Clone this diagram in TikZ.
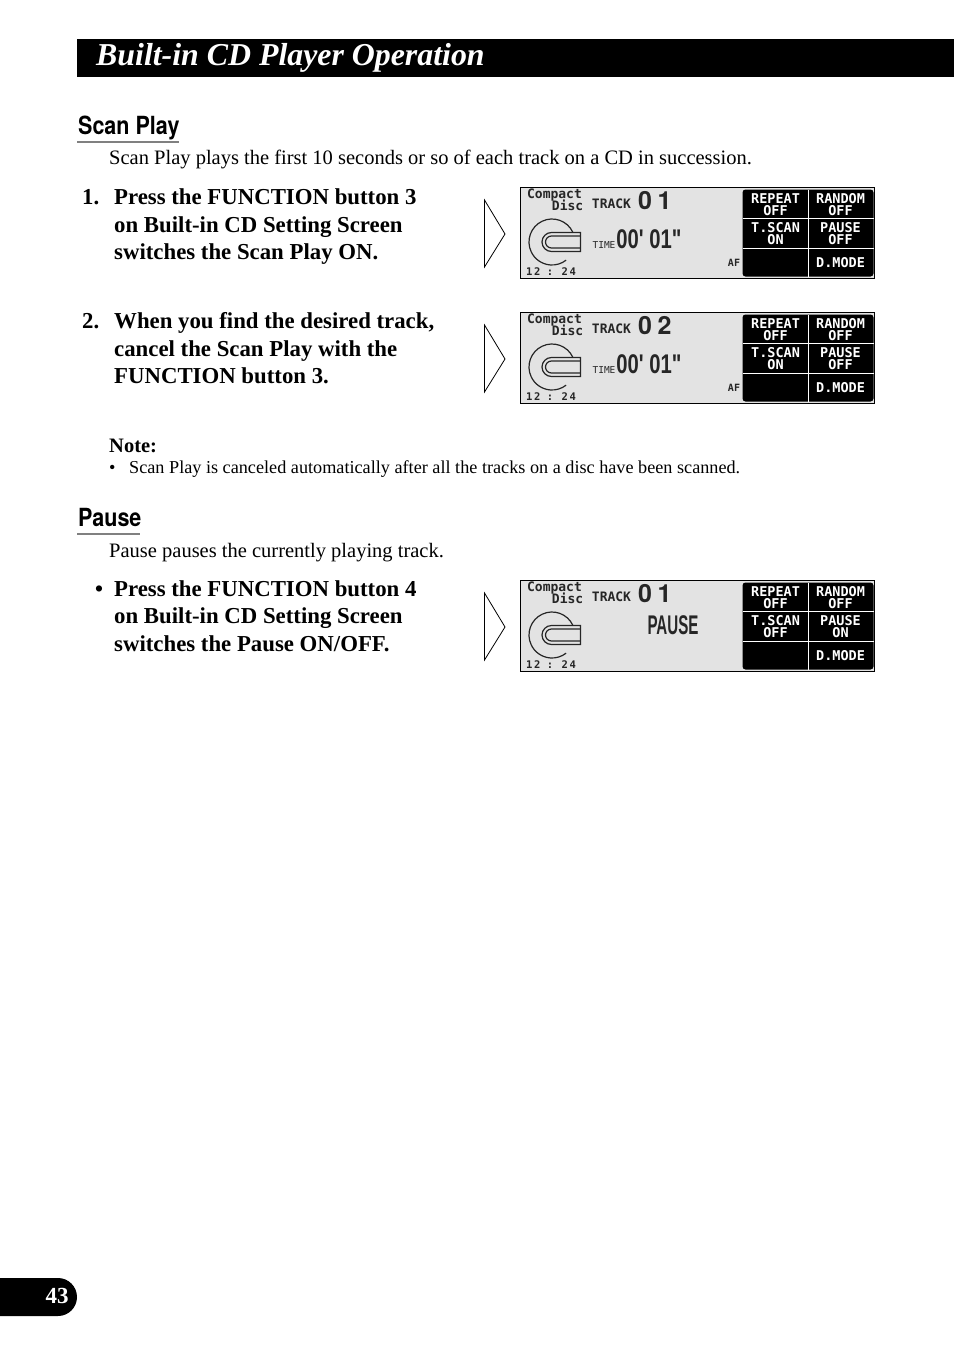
\documentclass[tikz,border=0pt]{standalone}
\usepackage{fontspec}
\setmainfont{Liberation Serif}
\newfontfamily\headfont[FakeStretch=0.86]{TeX Gyre Heros}
\newfontfamily\lcdfont{DejaVu Sans Mono}
\newfontfamily\trackfont{TeX Gyre Heros}
\newfontfamily\bigfont[FakeStretch=0.75]{Liberation Sans}
\newfontfamily\pausefont[FakeStretch=0.56]{Liberation Sans}
\tikzset{
    txt/.style={anchor=base west,inner sep=0pt,font=\fontsize{20.5}{20.5}\selectfont},
    itemtxt/.style={anchor=base west,inner sep=0pt,font=\fontsize{22.8}{22.8}\selectfont\bfseries},
    notetxt/.style={anchor=base west,inner sep=0pt,font=\fontsize{18.2}{18.2}\selectfont},
    headtxt/.style={anchor=base west,inner sep=0pt,font=\fontsize{25}{25}\selectfont\headfont\bfseries},
    lcd/.style={inner sep=0pt,text=black!85,font=\fontsize{13}{13}\selectfont\lcdfont\bfseries},
    lcdkey/.style={inner sep=0pt,text=white,align=center,font=\fontsize{13.5}{11.5}\selectfont\lcdfont\bfseries},
    tracknum/.style={inner sep=0pt,text=black!85,font=\fontsize{25}{25}\selectfont\trackfont\bfseries},
    pointer/.style={draw=black,line width=0.8pt,fill=white,line join=miter}
}
% one display screen: name, top edge, track digit, t.scan, pause
\newcommand{\lcdscreen}[5]{
    \begin{scope}[shift={(520.5,#2)}]
        \draw[black,line width=1.2pt,fill=black!11] (0,0) rectangle (354,91);
        \fill[black,rounded corners=3pt] (222,2) rectangle (353,89);
        \draw[white,line width=1.2pt] (288,2) -- (288,89) (222,31) -- (353,31) (222,61) -- (353,61);
        % disc
        \draw[black!85,line width=1.2pt] (31.5,54.5) ++(-25:23) arc (-25:-308:23);
        \draw[black!85,line width=1.2pt,fill=black!11] (60,45) -- (31,45) arc (-90:-270:9.5) -- (60,64) -- cycle;
        \draw[black!85,line width=1.2pt] (60,48.5) -- (31,48.5) arc (-90:-270:6) -- (60,60.5);
        % texts
        \node[lcd] (#1compact) at (34,8) {Compact};
        \node[lcd,anchor=east] (#1disc) at (63,18) {Disc};
        \node[lcd] (#1track) at (91,16) {TRACK};
        \node[tracknum] (#1num) at (124.5,13) {0};
        \node[tracknum] (#1digit) at (144,13) {#3};
        \node[lcd,font=\fontsize{10.5}{10.5}\selectfont\lcdfont\bfseries] (#1clock) at (30.5,84.5) {1\,2 : 2\,4};
        \node[lcdkey] (#1repeat) at (255,17) {REPEAT\\OFF};
        \node[lcdkey] (#1random) at (320,17) {RANDOM\\OFF};
        \node[lcdkey] (#1scan) at (255,46) {T.SCAN\\#4};
        \node[lcdkey] (#1pause) at (320,46) {PAUSE\\#5};
        \node[lcdkey] (#1mode) at (320,75) {D.MODE};
    \end{scope}
}
\begin{document}
\begin{tikzpicture}[x=1pt,y=-1pt]
    \useasboundingbox (0,0) rectangle (954,1355);
    % title bar
    \fill[black] (77,39) rectangle (954,77);
    \node[anchor=base west,inner sep=0pt,text=white,font=\fontsize{31.85}{32}\selectfont\bfseries\itshape] (title) at (96,65) {Built-in CD Player Operation};

    % Scan Play
    \node[headtxt] (scanhead) at (78,134.5) {Scan Play};
    \draw[black!50,line width=1.2pt] (77,142) -- (179,142);
    \node[txt] (scantext) at (109,164) {Scan Play plays the first 10 seconds or so of each track on a CD in succession.};

    \node[itemtxt] (numa) at (82,204) {1.};
    \node[itemtxt] (itema) at (114,204) {Press the FUNCTION button 3};
    \node[itemtxt] (itemb) at (114,232) {on Built-in CD Setting Screen};
    \node[itemtxt] (itemc) at (114,259) {switches the Scan Play ON.};

    \node[itemtxt] (numb) at (82,328) {2.};
    \node[itemtxt] (itemd) at (114,328) {When you find the desired track,};
    \node[itemtxt] (iteme) at (114,356) {cancel the Scan Play with the};
    \node[itemtxt] (itemf) at (114,383) {FUNCTION button 3.};

    % Note
    \node[notetxt,font=\fontsize{20.5}{20.5}\selectfont\bfseries] (notehead) at (109,452) {Note:};
    \node[notetxt] (notedot) at (109,473) {•};
    \node[notetxt] (notetext) at (129,473) {Scan Play is canceled automatically after all the tracks on a disc have been scanned.};

    % Pause
    \node[headtxt] (pausehead) at (78,526.5) {Pause};
    \draw[black!50,line width=1.2pt] (77,534) -- (140,534);
    \node[txt] (pausetext) at (109,557) {Pause pauses the currently playing track.};

    \node[itemtxt] (numc) at (95,596) {•};
    \node[itemtxt] (itemg) at (114,596) {Press the FUNCTION button 4};
    \node[itemtxt] (itemh) at (114,623) {on Built-in CD Setting Screen};
    \node[itemtxt] (itemi) at (114,651) {switches the Pause ON/OFF.};

    % pointers
    \draw[pointer] (484.5,200) -- (505,234) -- (484.5,267) -- cycle;
    \draw[pointer] (484.5,325) -- (505,359) -- (484.5,392) -- cycle;
    \draw[pointer] (484.5,593) -- (505,627) -- (484.5,660) -- cycle;

    % screens
    \lcdscreen{one}{187.5}{1}{ON}{OFF}
    \node[lcd,font=\fontsize{9.5}{9.5}\selectfont\lcdfont] (onetime) at (604,245) {TIME};
    \node[inner sep=0pt,text=black!85,font=\fontsize{27}{27}\selectfont\bigfont\bfseries] (oneclock) at (649,239) {00' 01"};
    \node[lcd,font=\fontsize{10}{10}\selectfont\lcdfont\bfseries] (oneaf) at (734,263) {AF};

    \lcdscreen{two}{312.5}{2}{ON}{OFF}
    \node[lcd,font=\fontsize{9.5}{9.5}\selectfont\lcdfont] (twotime) at (604,370) {TIME};
    \node[inner sep=0pt,text=black!85,font=\fontsize{27}{27}\selectfont\bigfont\bfseries] (twoclock) at (649,364) {00' 01"};
    \node[lcd,font=\fontsize{10}{10}\selectfont\lcdfont\bfseries] (twoaf) at (734,388) {AF};

    \lcdscreen{three}{580.5}{1}{OFF}{ON}
    \node[inner sep=0pt,text=black!85,font=\fontsize{27}{27}\selectfont\pausefont\bfseries] (threepause) at (673,625) {PAUSE};

    % page number
    \fill[black] (0,1278) -- (58,1278) arc (-90:90:19) -- (0,1316) -- cycle;
    \node[inner sep=0pt,text=white,font=\fontsize{23}{23}\selectfont\bfseries] (pagenum) at (57,1296) {43};
\end{tikzpicture}
\end{document}
